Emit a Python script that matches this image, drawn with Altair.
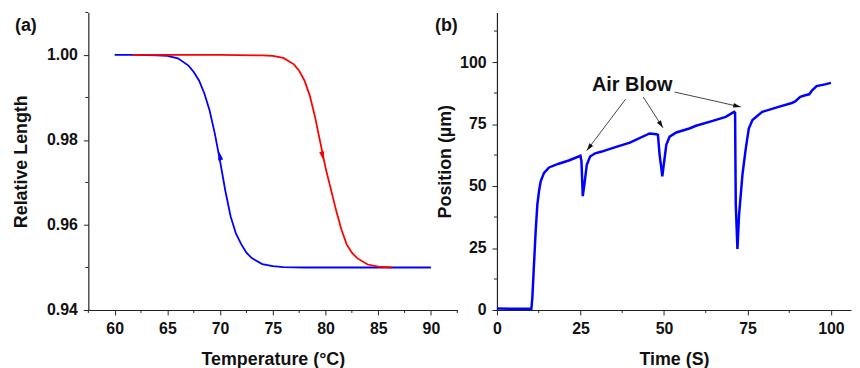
import math
import altair as alt
import pandas as pd

# ---------------- Panel (a): relative length vs temperature ----------------
blue_T = [60, 62, 64, 65, 66, 67, 67.5, 68, 68.5, 69, 69.5, 70, 70.5, 71, 71.5,
          72, 72.5, 73, 74, 75, 76, 78, 90]
blue_L = [1.0000, 1.0000, 0.9999, 0.9998, 0.9992, 0.9975, 0.9960, 0.9940, 0.9910,
          0.9870, 0.9815, 0.9750, 0.9680, 0.9620, 0.9580, 0.9555, 0.9535, 0.9522,
          0.9508, 0.9503, 0.9501, 0.9500, 0.9500]
red_T = [61.7, 66, 70, 74, 75, 76, 77, 77.5, 78, 78.5, 79, 79.5, 80, 80.5, 81,
         81.5, 82, 82.5, 83, 84, 85, 86.3]
red_L = [1.0000, 1.0000, 1.0000, 0.9999, 0.9998, 0.9993, 0.9978, 0.9963, 0.9940,
         0.9905, 0.9855, 0.9795, 0.9735, 0.9685, 0.9635, 0.9590, 0.9555, 0.9535,
         0.9522, 0.9507, 0.9502, 0.9500]
head_a_T = [70.0, 79.7]
head_a_L = [0.9760, 0.9765]
head_a_series = ["cooling", "heating"]
head_a_angle = [350, 168]

# ---------------- Panel (b): position vs time ----------------
time_s = [0, 5, 10.3, 10.6, 11.1, 11.6, 12.1, 12.6, 13.1, 14.1, 15.6, 18.5, 21.5,
          25.0, 25.3, 25.7, 26.3, 26.9, 27.9, 29.4, 31.4, 35, 39.8, 45.7, 47.7,
          48.2, 48.7, 49.2, 49.5, 50.2, 50.7, 51.7, 53.7, 57.6, 59.6, 64.6, 68.5,
          71.0, 71.3, 71.4, 71.5, 72.0, 72.5, 73.5, 74.5, 75.4, 76.5, 79.4, 84.3,
          88.3, 89.3, 90.8, 92.3, 93.5, 94.3, 95.7, 98.2, 100]
pos_um = [0.6, 0.5, 0.5, 5, 18.6, 32, 42.6, 48, 51.9, 55.3, 57.5, 59, 60.3,
          62.2, 60, 45.9, 51.9, 58.6, 61.9, 63.2, 63.9, 65.5, 67.5, 71.2, 70.9,
          70.6, 62.6, 57.3, 53.9, 61.3, 66.6, 69.9, 71.6, 73.2, 74.3, 76.3, 77.9,
          79.9, 79.5, 60, 42.6, 24.6, 38.6, 54.6, 65.2, 73.2, 76.6, 79.9, 81.9,
          83.5, 84.1, 86.0, 86.6, 87.0, 88.5, 90.3, 91.0, 91.6]

note_text = "Air Blow"
note_x, note_y = 40.5, 90.8
arrow_x1 = [38.5, 43.8, 53.2]
arrow_y1 = [85.0, 85.9, 87.9]
arrow_x2 = [26.9, 49.7, 73.0]
arrow_y2 = [64.3, 73.5, 81.9]

# ---------------- axis ticks ----------------
xa_major = [60, 65, 70, 75, 80, 85, 90]
xa_minor = [57.5, 62.5, 67.5, 72.5, 77.5, 82.5, 87.5, 92.5]
ya_major = [0.94, 0.96, 0.98, 1.00]
ya_minor = [0.95, 0.97, 0.99, 1.01]
xb_major = [0, 25, 50, 75, 100]
xb_minor = [12.5, 37.5, 62.5, 87.5]
yb_major = [0, 25, 50, 75, 100]
yb_minor = [12.5, 37.5, 62.5, 87.5, 112.5]

# ---------------- layout constants ----------------
WA, HA = 372, 300
WB, HB = 357, 300
XA_DOM, YA_DOM = [57.5, 92.5], [0.94, 1.01]
XB_DOM, YB_DOM = [0, 106], [0, 120]
AXIS_COLOR = "#222"
ARROW_PATH = "M0,-1L0.5,0.6L-0.5,0.6Z"

FONT = "Liberation Sans"
AX = dict(grid=False, domainColor=AXIS_COLOR, domainWidth=1.2, tickColor=AXIS_COLOR,
          tickWidth=1, tickSize=5, labelFont=FONT, labelFontSize=16,
          labelFontWeight="bold", labelColor="#111", titleFont=FONT,
          titleFontSize=18, titleFontWeight="bold", titleColor="#111",
          labelPadding=6, labelOverlap=False, labelFlush=False)


def make_axis(values, fmt, title, tpad):
    return alt.Axis(values=values, format=fmt, title=title, titlePadding=tpad, **AX)


def minor_x(values, field, h):
    return alt.Chart(pd.DataFrame({field: values})).mark_rule(
        color=AXIS_COLOR, strokeWidth=1).encode(
        x=alt.X(f"{field}:Q"), y=alt.value(h), y2=alt.value(h + 3))


def minor_y(values, field):
    return alt.Chart(pd.DataFrame({field: values})).mark_rule(
        color=AXIS_COLOR, strokeWidth=1).encode(
        y=alt.Y(f"{field}:Q"), x=alt.value(0), x2=alt.value(-3))


# ---------------- data frames ----------------
df_a = pd.concat([
    pd.DataFrame({"T": blue_T, "L": blue_L, "series": "cooling"}),
    pd.DataFrame({"T": red_T, "L": red_L, "series": "heating"}),
], ignore_index=True)
df_a_head = pd.DataFrame({"T": head_a_T, "L": head_a_L, "series": head_a_series,
                          "ang": head_a_angle})

HEAD_B_SIZE = 90
sx = WB / (XB_DOM[1] - XB_DOM[0])
sy = HB / (YB_DOM[1] - YB_DOM[0])
heads = []
for x1, y1, x2, y2 in zip(arrow_x1, arrow_y1, arrow_x2, arrow_y2):
    dx = (x2 - x1) * sx
    dy = -(y2 - y1) * sy
    ang = math.degrees(math.atan2(dx, -dy)) % 360
    length = math.hypot(dx, dy)
    back = (math.sqrt(HEAD_B_SIZE) / 2) / length
    heads.append({"t": x2 - (x2 - x1) * back, "p": y2 - (y2 - y1) * back, "ang": ang})
df_b = pd.DataFrame({"t": time_s, "p": pos_um})
df_arrows = pd.DataFrame({"t": arrow_x1, "p": arrow_y1, "t2": arrow_x2, "p2": arrow_y2})
df_heads = pd.DataFrame(heads)
df_note = pd.DataFrame({"t": [note_x], "p": [note_y], "txt": [note_text]})

color_scale = alt.Scale(domain=["heating", "cooling"], range=["#FF0000", "#0000FF"])

xa = alt.X("T:Q", scale=alt.Scale(domain=XA_DOM, nice=False, zero=False),
           axis=make_axis(xa_major, ".0f", "Temperature (°C)", 14))
ya = alt.Y("L:Q", scale=alt.Scale(domain=YA_DOM, nice=False, zero=False),
           axis=make_axis(ya_major, ".2f", "Relative Length", 16))

lines_a = alt.Chart(df_a).mark_line(strokeWidth=1.8).encode(
    x=xa, y=ya, color=alt.Color("series:N", scale=color_scale, legend=None),
    detail="series:N")
heads_a = alt.Chart(df_a_head).mark_point(shape=ARROW_PATH, filled=True, size=110,
                                           opacity=1).encode(
    x=alt.X("T:Q"), y=alt.Y("L:Q"),
    color=alt.Color("series:N", scale=color_scale, legend=None),
    angle=alt.Angle("ang:Q", scale=None))
label_a = alt.Chart(pd.DataFrame({"s": ["(a)"]})).mark_text(
    font=FONT, fontSize=18, fontWeight="bold", color="#111", align="center",
    baseline="middle").encode(x=alt.value(-63), y=alt.value(14), text="s:N")

panel_a = alt.layer(lines_a, heads_a, minor_x(xa_minor, "T", HA),
                    minor_y(ya_minor, "L"), label_a).properties(width=WA, height=HA)

xb = alt.X("t:Q", scale=alt.Scale(domain=XB_DOM, nice=False, zero=False),
           axis=make_axis(xb_major, ".0f", "Time (S)", 14))
yb = alt.Y("p:Q", scale=alt.Scale(domain=YB_DOM, nice=False, zero=False),
           axis=make_axis(yb_major, ".0f", "Position (µm)", 5))

line_b = alt.Chart(df_b).mark_line(strokeWidth=2.5, color="#0000FF").encode(x=xb, y=yb)
rules_b = alt.Chart(df_arrows).mark_rule(color="#444", strokeWidth=1).encode(
    x=alt.X("t:Q"), y=alt.Y("p:Q"), x2="t2:Q", y2="p2:Q")
heads_b = alt.Chart(df_heads).mark_point(shape=ARROW_PATH, filled=True,
                                         size=HEAD_B_SIZE, color="#111",
                                         opacity=1).encode(
    x=alt.X("t:Q"), y=alt.Y("p:Q"), angle=alt.Angle("ang:Q", scale=None))
note_b = alt.Chart(df_note).mark_text(font=FONT, fontSize=20, fontWeight="bold",
                                      color="#111", align="center",
                                      baseline="middle").encode(
    x=alt.X("t:Q"), y=alt.Y("p:Q"), text="txt:N")
label_b = alt.Chart(pd.DataFrame({"s": ["(b)"]})).mark_text(
    font=FONT, fontSize=18, fontWeight="bold", color="#111", align="center",
    baseline="middle").encode(x=alt.value(-51), y=alt.value(14), text="s:N")

panel_b = alt.layer(line_b, rules_b, heads_b, note_b, minor_x(xb_minor, "t", HB),
                    minor_y(yb_minor, "p"), label_b).properties(width=WB, height=HB)

chart = alt.hconcat(panel_a, panel_b, spacing=40, bounds="flush").properties(
    padding={"left": 4, "top": 2, "right": 0, "bottom": 0},
    background="white",
).configure_view(stroke="transparent")

chart.save("out.html", embed_options={"renderer": "svg", "actions": False})
